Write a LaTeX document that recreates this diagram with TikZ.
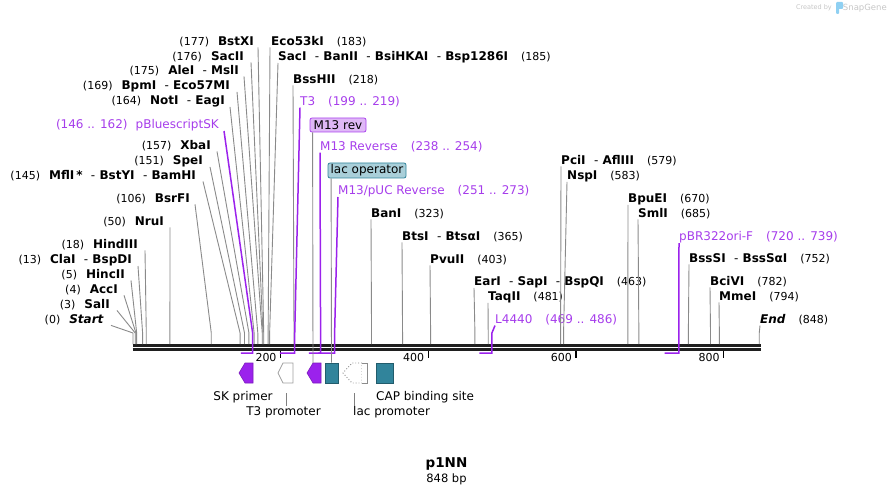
\documentclass[tikz,border=0pt]{standalone}
\usepackage{fontspec}
\setmainfont{DejaVu Sans}
\usetikzlibrary{positioning}
\definecolor{featc}{HTML}{9B22EC}
\definecolor{feattxt}{HTML}{A63DEB}
\definecolor{sitec}{HTML}{8A8A8A}
\definecolor{tealc}{HTML}{31849B}
\definecolor{lacopc}{HTML}{A9CFD9}
\definecolor{m13c}{HTML}{DFB8F6}
\definecolor{logoc}{HTML}{8FD0F2}
\newcommand{\bp}[1]{133+0.7385*#1}
\newcommand{\numf}{\fontsize{11}{13}\selectfont}
\newcommand{\lname}[2]{{\numf(#1)}\hspace{9pt}\textbf{#2}}
\newcommand{\rname}[2]{\textbf{#1}\hspace{13pt}{\numf(#2)}}
\newcommand{\dsh}{\ \ {\mdseries -}\ }

\begin{document}
\begin{tikzpicture}[x=1pt,y=-1pt,
        lsite/.style={anchor=east,inner sep=0pt,font=\fontsize{12}{14}\selectfont},
        rsite/.style={anchor=west,inner sep=0pt,font=\fontsize{12}{14}\selectfont},
        lfeat/.style={lsite,text=feattxt},
        rfeat/.style={rsite,text=feattxt},
        flabel/.style={inner sep=0pt,font=\fontsize{12}{14}\selectfont},
        cut/.style={draw=sitec,line width=0.9pt},
        featline/.style={draw=featc,line width=1.5pt},
        tickmark/.style={draw=black,line width=1.3pt},
        ticklabel/.style={anchor=east,inner sep=0pt,font=\fontsize{11}{13}\selectfont},
        primerarrow/.style={fill=featc,draw=featc!80!black,line width=0.6pt},
        promarrow/.style={fill=white,draw=gray!75,line width=0.8pt},
        tealbox/.style={draw=tealc!70!black,fill=tealc,line width=0.6pt,minimum width=13pt,minimum height=20pt,inner sep=0pt},
        tagbox/.style={draw,rounded corners=2pt,line width=0.8pt,inner sep=0pt,font=\fontsize{12}{14}\selectfont}]
        \useasboundingbox (0,0) rectangle (893,494);

        % backbone and scale
        \draw[line width=2.7pt,black!88] (132.5,345.3) -- (761,345.3);
        \draw[line width=2.5pt,black!88] (132.5,349.6) -- (761,349.6);
        \draw[tickmark] ({\bp{200}},351) -- ({\bp{200}},358);
        \draw[tickmark] ({\bp{400}},351) -- ({\bp{400}},358);
        \draw[tickmark] ({\bp{600}},351) -- ({\bp{600}},358);
        \draw[tickmark] ({\bp{800}},351) -- ({\bp{800}},358);
        \node[ticklabel] (t200) at ({\bp{200}-4},357) {200};
        \node[ticklabel] (t400) at ({\bp{400}-4},357) {400};
        \node[ticklabel] (t600) at ({\bp{600}-4},357) {600};
        \node[ticklabel] (t800) at ({\bp{800}-4},357) {800};

        % sites on the left
        \node[lsite] (start) at (104,320) {\lname{0}{\textit{Start}}};
        \node[lsite] (sali) at (110,305) {\lname{3}{SalI}};
        \node[lsite] (acci) at (118,290) {\lname{4}{AccI}};
        \node[lsite] (hincii) at (125,275) {\lname{5}{HincII}};
        \node[lsite] (clai) at (132,260) {\lname{13}{ClaI\dsh BspDI}};
        \node[lsite] (hindiii) at (138,245) {\lname{18}{HindIII}};
        \node[lsite] (nrui) at (164,222) {\lname{50}{NruI}};
        \node[lsite] (bsrfi) at (190,199) {\lname{106}{BsrFI}};
        \node[lsite] (mfli) at (196,176) {\lname{145}{MflI\,*\dsh BstYI\dsh BamHI}};
        \node[lsite] (spei) at (203,161) {\lname{151}{SpeI}};
        \node[lsite] (xbai) at (211,146) {\lname{157}{XbaI}};
        \node[lfeat] (pbsk) at (219,125) {(146 .. 162)\hspace{8pt}pBluescriptSK};
        \node[lsite] (noti) at (225,101) {\lname{164}{NotI\dsh EagI}};
        \node[lsite] (bpmi) at (230,86) {\lname{169}{BpmI\dsh Eco57MI}};
        \node[lsite] (alei) at (239,71) {\lname{175}{AleI\dsh MslI}};
        \node[lsite] (sacii) at (244,57) {\lname{176}{SacII}};
        \node[lsite] (bstxi) at (254,42) {\lname{177}{BstXI}};

        \draw[cut] ([xshift=7pt]start.south east) -- ({\bp{0}},333) -- ({\bp{0}},344);
        \draw[cut] ([xshift=7pt]sali.south east) -- ({\bp{3}},333) -- ({\bp{3}},344);
        \draw[cut] ([xshift=6pt]acci.south east) -- ({\bp{4}},333) -- ({\bp{4}},344);
        \draw[cut] ([xshift=6pt]hincii.south east) -- ({\bp{5}},333) -- ({\bp{5}},344);
        \draw[cut] ([xshift=6pt]clai.south east) -- ({\bp{13}},333) -- ({\bp{13}},344);
        \draw[cut] ([xshift=7pt]hindiii.south east) -- ({\bp{18}},333) -- ({\bp{18}},344);
        \draw[cut] ([xshift=6pt]nrui.south east) -- ({\bp{50}},333) -- ({\bp{50}},344);
        \draw[cut] ([xshift=5pt]bsrfi.south east) -- ({\bp{106}},333) -- ({\bp{106}},344);
        \draw[cut] ([xshift=7pt]mfli.south east) -- ({\bp{145}},333) -- ({\bp{145}},344);
        \draw[cut] ([xshift=7pt]spei.south east) -- ({\bp{151}},333) -- ({\bp{151}},344);
        \draw[cut] ([xshift=6pt]xbai.south east) -- ({\bp{157}},333) -- ({\bp{157}},344);
        \draw[cut] ([xshift=5pt]noti.south east) -- ({\bp{164}},333) -- ({\bp{164}},344);
        \draw[cut] ([xshift=7pt]bpmi.south east) -- ({\bp{169}},333) -- ({\bp{169}},344);
        \draw[cut] ([xshift=5pt]alei.south east) -- ({\bp{175}},333) -- ({\bp{175}},344);
        \draw[cut] ([xshift=7pt]sacii.south east) -- ({\bp{176}},333) -- ({\bp{176}},344);
        \draw[cut] ([xshift=4pt]bstxi.south east) -- ({\bp{177}},333) -- ({\bp{177}},344);
        \draw[featline] ([xshift=5pt]pbsk.south east) -- ({\bp{162}},333) -- ({\bp{162}},353) -- ({\bp{146}},353);

        % sites on the right
        \node[rsite] (eco53ki) at (271,42) {\rname{Eco53kI}{183}};
        \node[rsite] (saci) at (278,57) {\rname{SacI\dsh BanII\dsh BsiHKAI\dsh Bsp1286I}{185}};
        \node[rsite] (bsshii) at (293,80) {\rname{BssHII}{218}};
        \node[rfeat] (t3) at (300,102) {T3\hspace{13pt}(199 .. 219)};
        \node[tagbox,draw=featc!85!white,fill=m13c,minimum width=56pt,minimum height=14pt] (m13rev) at (338,125) {M13 rev};
        \node[rfeat] (m13r) at (320,147) {M13 Reverse\hspace{13pt}(238 .. 254)};
        \node[tagbox,draw=tealc,fill=lacopc,minimum width=78pt,minimum height=15pt] (lacop) at (367,170.5) {lac operator};
        \node[rfeat] (m13puc) at (338,191) {M13/pUC Reverse\hspace{13pt}(251 .. 273)};
        \node[rsite] (bani) at (371,214) {\rname{BanI}{323}};
        \node[rsite] (btsi) at (402,237) {\rname{BtsI\dsh BtsαI}{365}};
        \node[rsite] (pvuii) at (430,260) {\rname{PvuII}{403}};
        \node[rsite] (eari) at (474,282) {\rname{EarI\dsh SapI\dsh BspQI}{463}};
        \node[rsite] (taqii) at (488,297) {\rname{TaqII}{481}};
        \node[rfeat] (l4440) at (495,320) {L4440\hspace{13pt}(469 .. 486)};
        \node[rsite] (pcii) at (561,161) {\rname{PciI\dsh AflIII}{579}};
        \node[rsite] (nspi) at (567,176) {\rname{NspI}{583}};
        \node[rsite] (bpuei) at (628,199) {\rname{BpuEI}{670}};
        \node[rsite] (smli) at (638,214) {\rname{SmlI}{685}};
        \node[rfeat] (pbr) at (679,237) {pBR322ori-F\hspace{13pt}(720 .. 739)};
        \node[rsite] (bsssi) at (689,259) {\rname{BssSI\dsh BssSαI}{752}};
        \node[rsite] (bcivi) at (710,282) {\rname{BciVI}{782}};
        \node[rsite] (mmei) at (719,297) {\rname{MmeI}{794}};
        \node[rsite] (end) at (760,320) {\rname{\textit{End}}{848}};

        \draw[cut] ([xshift=-1pt]eco53ki.south west) -- ({\bp{183}},333) -- ({\bp{183}},344);
        \draw[cut] (saci.south west) -- ({\bp{185}},333) -- ({\bp{185}},344);
        \draw[cut] (bsshii.south west) -- ({\bp{218}},333) -- ({\bp{218}},344);
        \draw[cut] (bani.south west) -- ({\bp{323}},333) -- ({\bp{323}},344);
        \draw[cut] (btsi.south west) -- ({\bp{365}},333) -- ({\bp{365}},344);
        \draw[cut] (pvuii.south west) -- ({\bp{403}},333) -- ({\bp{403}},344);
        \draw[cut] (eari.south west) -- ({\bp{463}},333) -- ({\bp{463}},344);
        \draw[cut] (taqii.south west) -- ({\bp{481}},333) -- ({\bp{481}},344);
        \draw[cut] (pcii.south west) -- ({\bp{579}},333) -- ({\bp{579}},344);
        \draw[cut] (nspi.south west) -- ({\bp{583}},333) -- ({\bp{583}},344);
        \draw[cut] (bpuei.south west) -- ({\bp{670}},333) -- ({\bp{670}},344);
        \draw[cut] (smli.south west) -- ({\bp{685}},333) -- ({\bp{685}},344);
        \draw[cut] (bsssi.south west) -- ({\bp{752}},333) -- ({\bp{752}},344);
        \draw[cut] (bcivi.south west) -- ({\bp{782}},333) -- ({\bp{782}},344);
        \draw[cut] (mmei.south west) -- ({\bp{794}},333) -- ({\bp{794}},344);
        \draw[cut] (end.south west) -- ({\bp{848}},333) -- ({\bp{848}},344);

        \draw[featline] (t3.south west) -- ({\bp{219}},333) -- ({\bp{219}},353) -- ({\bp{199}},353);
        \draw[featline] (m13r.south west) -- ({\bp{254}},333) -- ({\bp{254}},353) -- ({\bp{238}},353);
        \draw[featline] (m13puc.south west) -- ({\bp{273}},333) -- ({\bp{273}},353) -- ({\bp{251}},353);
        \draw[featline] (l4440.south west) -- ({\bp{486}},333) -- ({\bp{486}},353) -- ({\bp{469}},353);
        \draw[featline] (pbr.south west) -- ({\bp{739}},333) -- ({\bp{739}},353) -- ({\bp{720}},353);

        % features under the map
        \draw[primerarrow] (239,373) -- (245,363) -- (253,363) -- (253,383) -- (245,383) -- cycle;
        \draw[promarrow] (278,373) -- (283,363) -- (293,363) -- (293,383) -- (283,383) -- cycle;
        \draw[primerarrow] (307,373) -- (313,363) -- (321,363) -- (321,383) -- (313,383) -- cycle;
        \node[tealbox] (lacopbox) at (331.5,373) {};
        \draw[promarrow,draw=gray!90,line width=0.9pt,dotted] (362,363) -- (352,363) -- (343,373) -- (352,383) -- (362,383) -- cycle;
        \draw[promarrow,draw=gray!90] (362,363) -- (367,363) -- (367,383) -- (362,383);
        \node[tealbox,minimum width=17pt] (capbox) at (384.5,373) {};
        \coordinate (m13revarrow) at (313,363);
        \coordinate (t3promarrow) at (286,393);
        \coordinate (lacpromarrow) at (354,393);
        \draw[cut] ([xshift=3pt]m13rev.south west) -- (m13revarrow);
        \draw[cut] ([xshift=3.5pt]lacop.south west) -- (lacopbox.north);

        \node[flabel] (skprimer) at (243,397) {SK primer};
        \node[flabel] (t3prom) at (283.5,412) {T3 promoter};
        \node[flabel,anchor=west] (lacprom) at (353,412) {lac promoter};
        \node[flabel,anchor=west] (capsite) at (376,397) {CAP binding site};
        \draw[cut,draw=gray] (t3promarrow) -- (t3promarrow |- t3prom.north);
        \draw[cut,draw=gray] (lacpromarrow) -- (lacpromarrow |- lacprom.north);

        % name and size
        \node[inner sep=0pt,font=\bfseries\fontsize{13.5}{15}\selectfont] (plasmid) at (446.5,464) {p1NN};
        \node[inner sep=0pt,font=\fontsize{11.5}{13}\selectfont,below=3pt of plasmid] (plsize) {848 bp};

        % watermark
        \node[inner sep=0pt,anchor=east,text=gray!45,font=\fontsize{6.5}{8}\selectfont] (snapgene) at (887,8) {\fontsize{8.5}{10}\selectfont SnapGene};
        \fill[logoc,rounded corners=1pt] (836,2) rectangle (839,14);
        \fill[logoc,rounded corners=1pt] (837,2) rectangle (843,9);
        \node[inner sep=0pt,anchor=east,text=gray!45,font=\fontsize{6.5}{8}\selectfont] (created) at (832,8) {Created by};

        \end{tikzpicture}
\end{document}
